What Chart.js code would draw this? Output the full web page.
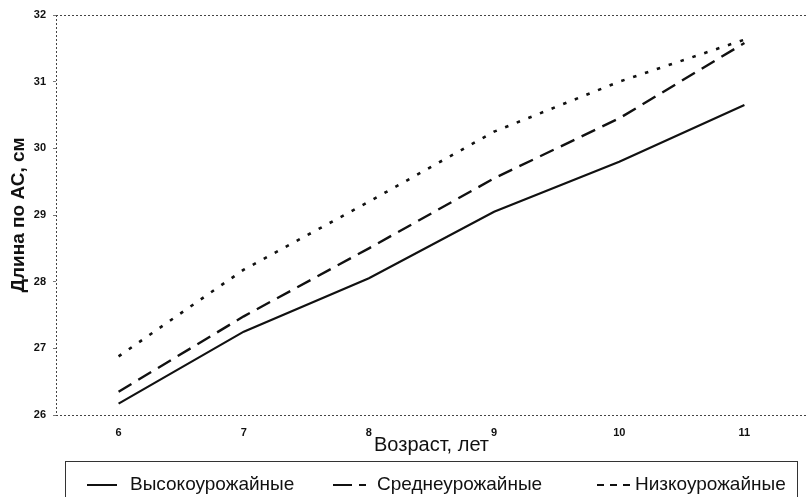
<!DOCTYPE html>
<html>
<head>
<meta charset="utf-8">
<script src="https://cdn.jsdelivr.net/npm/chart.js@4"></script>
<style>
html,body{margin:0;padding:0;background:#fff;}
#wrap{width:807px;height:497px;position:relative;}
</style>
</head>
<body>
<div id="wrap"><canvas id="c" width="807" height="497"></canvas></div>
<script>
const categories = ['6', '7', '8', '9', '10', '11'];
const highYield = [26.17, 27.25, 28.05, 29.05, 29.8, 30.65];
const midYield = [26.35, 27.48, 28.5, 29.55, 30.45, 31.58];
const lowYield = [26.88, 28.18, 29.2, 30.25, 31.0, 31.63];
const seriesNames = ['Высокоурожайные', 'Среднеурожайные', 'Низкоурожайные'];
const yMin = 26, yMax = 32;
const xTitle = 'Возраст, лет';
const yTitle = 'Длина по АС, см';

const ink = '#111';

const framePlugin = {
  id: 'frame',
  afterDraw(chart) {
    const ctx = chart.ctx;
    const a = chart.chartArea;
    ctx.save();
    // dotted frame: top, left, bottom
    ctx.strokeStyle = '#444';
    ctx.lineWidth = 1;
    ctx.setLineDash([2, 2]);
    ctx.beginPath();
    ctx.moveTo(a.left, a.top + 0.5);
    ctx.lineTo(a.right, a.top + 0.5);
    ctx.moveTo(a.left + 0.5, a.top);
    ctx.lineTo(a.left + 0.5, a.bottom);
    ctx.moveTo(a.left, a.bottom + 0.5);
    ctx.lineTo(a.right, a.bottom + 0.5);
    ctx.stroke();
    // legend box
    ctx.setLineDash([]);
    ctx.strokeStyle = '#333';
    ctx.lineWidth = 1;
    ctx.strokeRect(65.5, 461.5, 732, 60);
    // legend items
    const ly = 485;
    ctx.strokeStyle = ink;
    ctx.lineWidth = 2;
    const samples = [
      {x1: 87, x2: 117, dash: [], tx: 130},
      {x1: 333, x2: 367, dash: [19, 7, 7, 100], tx: 377},
      {x1: 597, x2: 630, dash: [7, 6], tx: 635}
    ];
    ctx.font = '19px "Liberation Sans", Arial, sans-serif';
    ctx.fillStyle = ink;
    ctx.textBaseline = 'middle';
    ctx.textAlign = 'left';
    samples.forEach((s, i) => {
      ctx.setLineDash(s.dash);
      ctx.beginPath();
      ctx.moveTo(s.x1, ly);
      ctx.lineTo(s.x2, ly);
      ctx.stroke();
      ctx.setLineDash([]);
      ctx.fillText(seriesNames[i], s.tx, ly);
    });
    ctx.restore();
  }
};

new Chart(document.getElementById('c'), {
  type: 'line',
  data: {
    labels: categories,
    datasets: [
      {label: seriesNames[0], data: highYield, borderColor: ink, borderWidth: 2.2, borderDash: [], pointRadius: 0, tension: 0, fill: false},
      {label: seriesNames[1], data: midYield, borderColor: ink, borderWidth: 2.4, borderDash: [15, 8], pointRadius: 0, tension: 0, fill: false},
      {label: seriesNames[2], data: lowYield, borderColor: ink, borderWidth: 2.6, borderDash: [3.5, 9], pointRadius: 0, tension: 0, fill: false}
    ]
  },
  options: {
    responsive: false,
    animation: false,
    devicePixelRatio: 1,
    layout: {padding: {top: 15, left: 0, right: 0, bottom: 38}},
    plugins: {legend: {display: false}, tooltip: {enabled: false}},
    scales: {
      x: {
        offset: true,
        grid: {display: false, drawTicks: false},
        border: {display: false},
        ticks: {color: ink, font: {family: '"Liberation Sans", Arial, sans-serif', size: 11, weight: 'bold'}, padding: 11, maxRotation: 0},
        title: {display: true, text: xTitle, color: ink, font: {family: '"Liberation Sans", Arial, sans-serif', size: 20}, padding: {top: 0, bottom: 2}},
        afterFit(s) { s.height = 44; }
      },
      y: {
        min: yMin, max: yMax,
        grid: {display: true, drawOnChartArea: false, drawTicks: true, tickLength: 3, color: '#777'},
        border: {display: false},
        ticks: {stepSize: 1, color: ink, font: {family: '"Liberation Sans", Arial, sans-serif', size: 11, weight: 'bold'}, padding: 7},
        title: {display: true, text: yTitle, color: ink, font: {family: '"Liberation Sans", Arial, sans-serif', size: 19, weight: 'bold'}, padding: {top: 7, bottom: 0}},
        afterFit(s) { s.width = 56; }
      }
    }
  },
  plugins: [framePlugin]
});
</script>
</body>
</html>
